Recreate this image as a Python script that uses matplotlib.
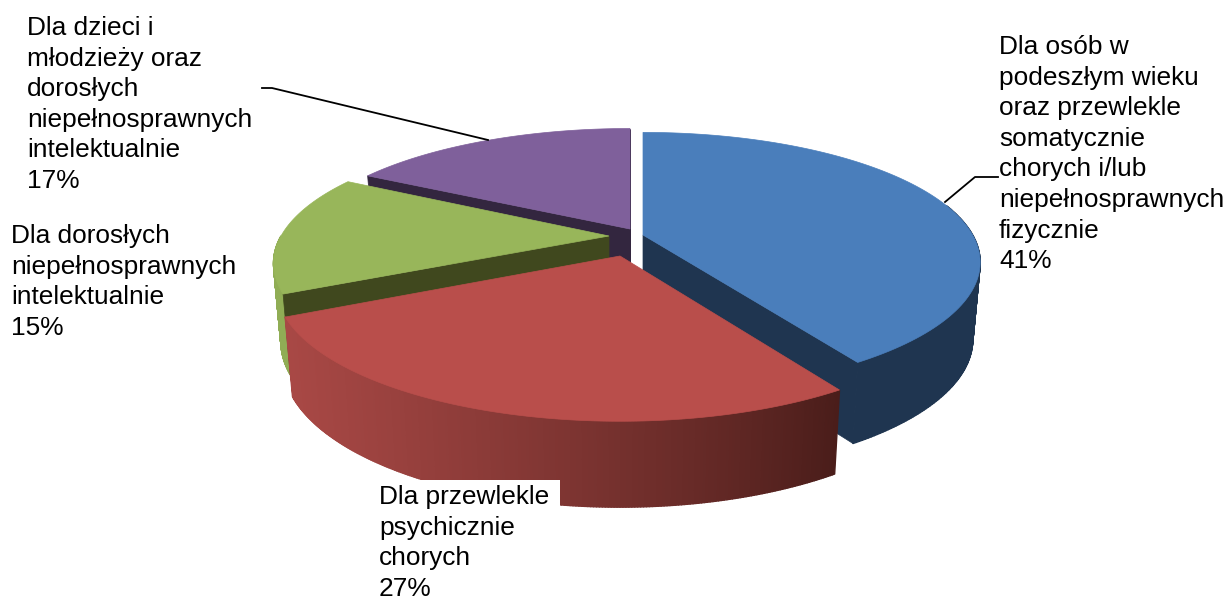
import numpy as np
import matplotlib
matplotlib.use('Agg')
import matplotlib.pyplot as plt
from matplotlib.collections import PolyCollection
from matplotlib.patches import Polygon, Rectangle

plt.rcParams['font.family'] = ['Liberation Sans', 'DejaVu Sans']

# data, clockwise from the top of the pie
labels = ['Dla osób w\npodeszłym wieku\noraz przewlekle\nsomatycznie\nchorych i/lub\nniepełnosprawnych\nfizycznie',
          'Dla przewlekle\npsychicznie\nchorych',
          'Dla dorosłych\nniepełnosprawnych\nintelektualnie',
          'Dla dzieci i\nmłodzieży oraz\ndorosłych\nniepełnosprawnych\nintelektualnie']
values = [41, 27, 15, 17]

# look of the 3d pie, in pixels
apex = [(643, 235), (620, 256), (609, 236), (630, 229)]
r_scale = [0.99, 1.012, 0.985, 0.99]
tilt_scale = [0.97, 1.02, 0.97, 0.95]
low_scale = [1.04, 1.06, 1.08, 1.08]
top_cols = ['#4a7ebb', '#b94e4b', '#98b65a', '#7f609b']
wall_cols = ['#1f3550', '#4c1f1c', '#40481e', '#33263f']
side_cols = ['#1f3550', None, '#90ad55', '#33263f']
label_pos = [(999, 35), (379, 485), (11, 224), (27, 16)]
R = 333
TILT = 128
PERSP = 0.21
DEPTH = 76

fig = plt.figure(figsize=(12.29, 6.01), dpi=100)
ax = fig.add_axes([0, 0, 1, 1])
ax.set_xlim(0, 1229)
ax.set_ylim(601, 0)
ax.axis('off')


def top_pt(i, a):
    c = apex[i]
    d = 1 + PERSP * np.cos(a)
    return np.column_stack((c[0] + r_scale[i] * R * np.sin(a) / d,
                            c[1] - tilt_scale[i] * TILT * np.cos(a) / d))


def low_pt(i, a):
    c = apex[i]
    d = 1 + PERSP * np.cos(a)
    return np.column_stack((c[0] + 0.978 * r_scale[i] * R * np.sin(a) / d,
                            c[1] + DEPTH - low_scale[i] * tilt_scale[i] * TILT * np.cos(a) / d))


def wall(i, a):
    c = apex[i]
    a = np.array([a])
    t = top_pt(i, a)[0]
    b = low_pt(i, a)[0]
    poly = [c, t, b, (c[0], c[1] + DEPTH)]
    ax.add_patch(Polygon(poly, fc=wall_cols[i], ec=wall_cols[i], lw=0.5))


def side(i, a0, a1, cols=None):
    a = np.linspace(a0, a1, len(cols) + 1 if cols is not None else 120)
    t = top_pt(i, a)
    b = low_pt(i, a)
    quads = [[t[j], t[j + 1], b[j + 1], b[j]] for j in range(len(a) - 1)]
    if cols is None:
        cols = [side_cols[i]] * len(quads)
    ax.add_collection(PolyCollection(quads, facecolors=cols, edgecolors=cols, linewidths=1.0))


def top(i, a0, a1):
    rim = top_pt(i, np.linspace(a0, a1, 120))
    ax.add_patch(Polygon(np.vstack(([apex[i]], rim)), fc=top_cols[i], ec=top_cols[i], lw=0.5))


ends = np.cumsum(values) / np.sum(values) * 2 * np.pi
starts = ends - np.array(values) / np.sum(values) * 2 * np.pi

# back slices first, red one goes last because it sits in front
wall(3, starts[3])
wall(3, ends[3])
top(3, starts[3], ends[3])

side(2, starts[2], 3 * np.pi / 2)
wall(2, starts[2])
top(2, starts[2], ends[2])

side(0, np.pi / 2 - 0.25, ends[0])
wall(0, ends[0])
top(0, starts[0], ends[0])

# red side has a horizontal gradient
a = np.linspace(starts[1], ends[1], 241)
mid = (a[:-1] + a[1:]) / 2
frac = (np.sin(ends[1]) - np.sin(mid)) / (np.sin(ends[1]) - np.sin(starts[1]))
left_col = np.array([168, 72, 69]) / 255
right_col = np.array([74, 29, 26]) / 255
red_cols = [tuple(left_col + (right_col - left_col) * f ** 1.3) for f in frac]
side(1, starts[1], ends[1], red_cols)
top(1, starts[1], ends[1])

# leader lines
ax.plot([262, 272, 488], [88, 88, 140], color='black', lw=1.3, zorder=5)
ax.plot([998, 975, 945], [177, 177, 202], color='black', lw=1.3, zorder=5)

# the red label covers the pie with a white box
ax.add_patch(Rectangle((372, 480), 188, 121, fc='white', ec='none', zorder=6))

for name, v, pos in zip(labels, values, label_pos):
    ax.text(pos[0], pos[1], '%s\n%d%%' % (name, v), fontsize=18.9, linespacing=1.348,
            ha='left', va='top', color='black', zorder=7)

fig.savefig('out.png', dpi=100, facecolor='white')
